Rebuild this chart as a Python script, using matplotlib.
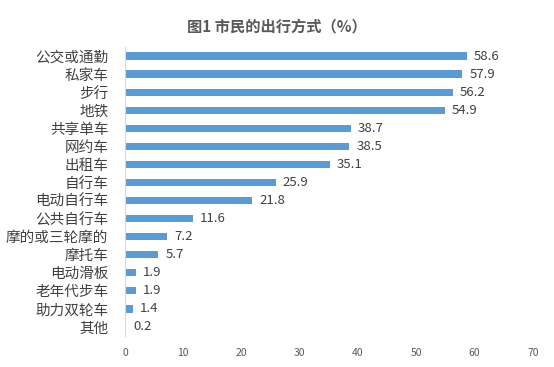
import matplotlib
matplotlib.use("Agg")
import matplotlib.pyplot as plt

plt.rcParams['font.family'] = ['Noto Sans CJK SC', 'DejaVu Sans']

modes = ['公交或通勤', '私家车', '步行', '地铁', '共享单车', '网约车', '出租车', '自行车',
         '电动自行车', '公共自行车', '摩的或三轮摩的', '摩托车', '电动滑板', '老年代步车',
         '助力双轮车', '其他']
share = [58.6, 57.9, 56.2, 54.9, 38.7, 38.5, 35.1, 25.9, 21.8, 11.6, 7.2, 5.7, 1.9, 1.9, 1.4, 0.2]
xticks = [0, 10, 20, 30, 40, 50, 60, 70]

fig = plt.figure(figsize=(5.54, 3.67), dpi=100)
ax = fig.add_axes([0.2256, 0.0845, 0.7364, 0.7875])

pos = list(range(len(modes)))
ax.barh(pos, share, height=0.4, color='#5b9bd5')
for y, v in zip(pos, share):
    ax.text(v + 1.2, y, f'{v}', va='center', ha='left', fontsize=9.5, color='#404040')

ax.set_ylim(len(modes) - 0.5, -0.5)
ax.set_xlim(0, 70)
ax.set_yticks(pos)
ax.set_yticklabels(modes, fontsize=10.5, color='#404040')
ax.set_xticks(xticks)
ax.set_xticklabels([str(t) for t in xticks], fontsize=7.5, color='#595959')
ax.tick_params(axis='both', length=0)
ax.tick_params(axis='x', pad=9)
ax.tick_params(axis='y', pad=12)

for s in ['top', 'right', 'bottom']:
    ax.spines[s].set_visible(False)
ax.spines['left'].set_color('#d9d9d9')

fig.text(0.5, 0.925, '图1 市民的出行方式（%）', ha='center', va='center',
         fontsize=11, fontweight='bold', color='#595959')

fig.savefig('out.png', dpi=100)
